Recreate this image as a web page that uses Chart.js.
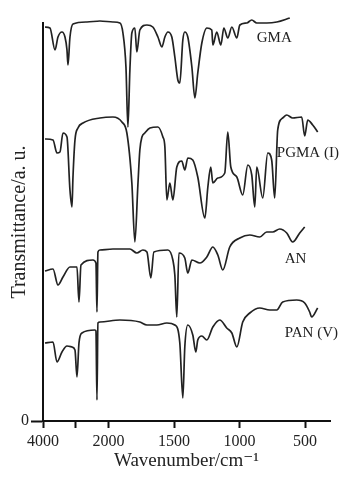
<!DOCTYPE html>
<html>
<head>
<meta charset="utf-8">
<script src="https://cdn.jsdelivr.net/npm/chart.js@4.4.1/dist/chart.umd.min.js"></script>
<style>
  html, body { margin: 0; padding: 0; background: #fff; }
  #wrap { width: 352px; height: 479px; }
</style>
</head>
<body>
<div id="wrap"><canvas id="c" width="352" height="479"></canvas></div>
<script>
// ---- Data (wavenumber in cm^-1, transmittance in arbitrary offset units) ----
const SERIES_NAMES = ['GMA', 'PGMA (I)', 'AN', 'PAN (V)'];

const GMA_W = [3939,3787,3634,3543,3421,3329,3268,3238,3177,3085,2658,2262,1966,1913,1890,1867,1852,1837,1822,1799,1784,1761,1707,1662,1623,1593,1570,1547,1517,1494,1471,1456,1433,1418,1395,1364,1341,1319,1288,1250,1212,1204,1174,1143,1120,1090,1059,1021,998,945,907,869,793,716,617];
const GMA_T = [394,393,371,384,389,384,371,356,384,397,399,400,399,398,388,354,294,351,388,393,369,391,396,394,384,374,384,389,384,364,341,338,381,389,384,354,323,348,378,393,391,376,389,376,393,383,394,383,396,398,401,398,398,399,403];

const PGMA_W = [3939,3695,3573,3482,3390,3268,3177,3116,3085,3024,2933,2780,2262,1966,1898,1860,1822,1799,1776,1761,1745,1723,1684,1623,1585,1570,1555,1532,1509,1479,1441,1418,1395,1357,1319,1265,1242,1220,1204,1166,1113,1090,1067,1021,976,937,907,884,869,823,785,755,732,709,671,640,595,526,503,480,442,404];
const PGMA_T = [282,281,268,269,288,284,231,214,244,281,293,298,303,304,299,288,238,179,236,271,284,288,293,294,284,274,221,238,221,254,260,251,263,261,244,203,234,254,238,243,248,289,254,244,226,256,246,214,254,223,268,261,223,291,303,306,303,304,285,301,296,289];

const AN_W = [3939,3695,3543,3390,3177,2963,2902,2841,2476,2384,2353,2323,2262,1966,1837,1784,1738,1707,1677,1654,1547,1509,1494,1479,1463,1418,1395,1364,1303,1250,1204,1166,1128,1075,998,922,846,793,747,694,640,595,541,503];
const AN_T = [150,152,136,144,154,154,119,156,161,158,109,169,171,172,172,168,171,169,143,169,171,161,146,104,168,163,148,161,158,164,174,166,151,174,183,186,184,189,189,192,188,179,188,194];

const PAN_W = [3939,3695,3573,3421,3268,3116,3024,2963,2902,2811,2414,2384,2353,2323,2262,1913,1761,1707,1631,1555,1494,1456,1433,1418,1395,1357,1334,1319,1288,1250,1204,1151,1098,1059,1021,976,922,846,770,716,671,564,503,465,450,404];
const PAN_T = [78,79,59,69,75,74,71,44,78,88,91,90,21,98,99,101,99,96,96,98,96,78,23,74,96,86,69,81,85,81,94,101,93,88,74,99,108,113,111,111,119,121,118,109,104,113];

// Axis ticks (split wavenumber axis: 4000-2000 compressed, 2000-300 expanded)
const TICK_W = [4000, 3000, 2000, 1500, 1000, 500];
const TICK_LABELS = ['4000', '', '2000', '1500', '1000', '500'];
const AXIS_W_MIN = 310;

// Series label anchors (wavenumber, transmittance)
const LABEL_W = [869, 716, 655, 655];
const LABEL_T = [383, 268, 162, 88];

// ---- Split-axis transform: wavenumber -> linear position ----
function toPos(w) {
  return w >= 2000 ? (4000 - w) / 4 : 500 + (2000 - w);
}

const SERIES = [[GMA_W, GMA_T], [PGMA_W, PGMA_T], [AN_W, AN_T], [PAN_W, PAN_T]];
const LINE = '#222';

const datasets = SERIES.map(([W, T], i) => ({
  label: SERIES_NAMES[i],
  data: W.map((w, k) => ({ x: toPos(w), y: T[k] })),
  borderColor: LINE,
  borderWidth: 1.7,
  pointRadius: 0,
  cubicInterpolationMode: 'monotone',
  fill: false,
  clip: false
}));

const labelPlugin = {
  id: 'seriesLabels',
  afterDatasetsDraw(chart) {
    const { ctx, scales: { x, y } } = chart;
    ctx.save();
    ctx.fillStyle = '#222';
    ctx.font = '15px "Liberation Serif", "DejaVu Serif", serif';
    ctx.textAlign = 'left';
    ctx.textBaseline = 'middle';
    SERIES_NAMES.forEach((name, i) => {
      ctx.fillText(name, x.getPixelForValue(toPos(LABEL_W[i])), y.getPixelForValue(LABEL_T[i]));
    });
    ctx.restore();
  }
};

const SERIF = '"Liberation Serif", "DejaVu Serif", serif';

new Chart(document.getElementById('c'), {
  type: 'line',
  data: { datasets },
  plugins: [labelPlugin],
  options: {
    responsive: false,
    animation: false,
    events: [],
    layout: { padding: { top: 23, right: 22, left: 0, bottom: 0 } },
    plugins: { legend: { display: false }, tooltip: { enabled: false } },
    scales: {
      x: {
        type: 'linear',
        min: 0,
        max: toPos(AXIS_W_MIN),
        afterBuildTicks(scale) {
          scale.ticks = TICK_W.map(w => ({ value: toPos(w) }));
        },
        afterFit(scale) { scale.height = 58; },
        ticks: {
          autoSkip: false,
          maxRotation: 0,
          padding: 4,
          color: '#222',
          font: { family: SERIF, size: 16 },
          callback(value, index) { return TICK_LABELS[index]; }
        },
        grid: {
          drawOnChartArea: false,
          drawTicks: true,
          tickLength: 7,
          tickWidth: 2,
          color: '#111'
        },
        border: { display: true, color: '#111', width: 2 },
        title: {
          display: true,
          text: 'Wavenumber/cm⁻¹',
          color: '#222',
          font: { family: SERIF, size: 19 },
          padding: { top: 0, bottom: 7 }
        }
      },
      y: {
        type: 'linear',
        min: 0,
        max: 398,
        afterBuildTicks(scale) { scale.ticks = [{ value: 0 }]; },
        afterFit(scale) { scale.width = 43; },
        ticks: {
          padding: 2,
          color: '#222',
          font: { family: SERIF, size: 16 },
          callback() { return '0'; }
        },
        grid: {
          drawOnChartArea: false,
          drawTicks: true,
          tickLength: 12,
          tickWidth: 2,
          color: '#111'
        },
        border: { display: true, color: '#111', width: 2 },
        title: {
          display: true,
          text: 'Transmittance/a. u.',
          color: '#222',
          font: { family: SERIF, size: 20 },
          padding: { top: 8, bottom: 0 }
        }
      }
    }
  }
});
</script>
</body>
</html>
